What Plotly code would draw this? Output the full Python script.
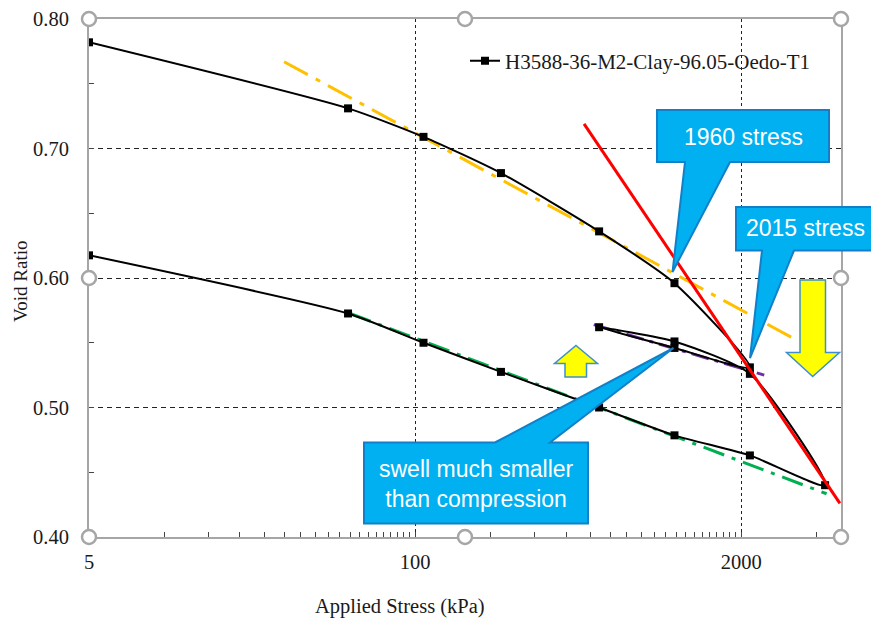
import math
import plotly.graph_objects as go

# ---------------- data ----------------
stress = [5, 54, 108, 220, 542, 1083, 2165, 1083, 542, 1083, 2165, 4320,
          2165, 1083, 542, 220, 108, 54, 5]
void_ratio = [0.782, 0.731, 0.709, 0.681, 0.636, 0.596, 0.531, 0.546, 0.562,
              0.551, 0.526, 0.440, 0.463, 0.4785, 0.500, 0.5275, 0.550,
              0.5726, 0.6175]
series_name = "H3588-36-M2-Clay-96.05-Oedo-T1"

orange_x = [30, 3330]
orange_y = [0.767, 0.552]
red_x = [472, 4950]
red_y = [0.719, 0.426]
purple_x = [516, 2470]
purple_y = [0.564, 0.525]
green_x = [55, 4380]
green_y = [0.5726, 0.4334]

x_tickvals = [5, 100, 2000]
x_ticktext = ["5", "100", "2000"]
x_minor = [5 * k for k in range(2, 20)] + [100 * k for k in range(2, 20)] + [4000]
y_tickvals = [0.40, 0.50, 0.60, 0.70, 0.80]
y_minor = [0.45, 0.55, 0.65, 0.75]

# ---------------- layout helpers (pixel -> paper) ----------------
L, T, W, H = 89, 19, 752, 518
FW, FH = 871, 619


def px(x):
    return (x - L) / W


def py(y):
    return (T + H - y) / H


def path(points):
    s = "M " + " L ".join(f"{px(x):.5f},{py(y):.5f}" for x, y in points) + " Z"
    return s


SERIF = "Liberation Serif, Times New Roman, serif"
SANS = "Liberation Sans, Arial, sans-serif"

fig = go.Figure()

fig.add_trace(go.Scatter(x=orange_x, y=orange_y, mode="lines", showlegend=False,
                         line=dict(color="#FFC000", width=3, dash="27px,9px,5px,9px")))
fig.add_trace(go.Scatter(x=green_x, y=green_y, mode="lines", showlegend=False,
                         line=dict(color="#00B050", width=3, dash="22px,8px,4px,8px")))
fig.add_trace(go.Scatter(x=purple_x, y=purple_y, mode="lines", showlegend=False,
                         line=dict(color="#7030A0", width=3, dash="18px,6px,4px,6px")))
fig.add_trace(go.Scatter(x=stress, y=void_ratio, mode="lines+markers", name=series_name,
                         line=dict(color="black", width=2, shape="spline", smoothing=0.6),
                         marker=dict(symbol="square", size=8, color="black")))
fig.add_trace(go.Scatter(x=red_x, y=red_y, mode="lines", showlegend=False,
                         line=dict(color="#FF0000", width=3)))

shapes = []
CALL_FILL = "#00B0F0"
CALL_LINE = "#1180C8"
# callouts
shapes.append(dict(type="path", xref="paper", yref="paper",
                   path=path([(657, 110), (829, 110), (829, 162), (730, 162),
                              (672.5, 272), (685, 162), (657, 162)]),
                   fillcolor=CALL_FILL, line=dict(color=CALL_LINE, width=2)))
shapes.append(dict(type="path", xref="paper", yref="paper",
                   path=path([(736, 207), (885, 207), (885, 250.5), (794, 250.5),
                              (750, 358), (762, 250.5), (736, 250.5)]),
                   fillcolor=CALL_FILL, line=dict(color=CALL_LINE, width=2)))
shapes.append(dict(type="path", xref="paper", yref="paper",
                   path=path([(364, 442.5), (495, 442.5), (673.5, 348), (550, 442.5),
                              (588, 442.5), (588, 523.5), (364, 523.5)]),
                   fillcolor=CALL_FILL, line=dict(color=CALL_LINE, width=2)))
# yellow arrows
ARROW_LINE = "#3C8FD0"
shapes.append(dict(type="path", xref="paper", yref="paper",
                   path=path([(576, 345.5), (597.5, 363.5), (586.5, 363.5), (586.5, 377),
                              (565, 377), (565, 363.5), (554.5, 363.5)]),
                   fillcolor="#FFFF00", line=dict(color=ARROW_LINE, width=1.5)))
shapes.append(dict(type="path", xref="paper", yref="paper",
                   path=path([(800, 280), (825.5, 280), (825.5, 352.5), (839.5, 352.5),
                              (812.7, 376.5), (786.5, 352.5), (800, 352.5)]),
                   fillcolor="#FFFF00", line=dict(color=ARROW_LINE, width=1.5)))
# selection handles
for hx in (L, L + W / 2, L + W):
    for hy in (T, T + H / 2, T + H):
        if hx == L + W / 2 and hy == T + H / 2:
            continue
        shapes.append(dict(type="circle", xref="paper", yref="paper",
                           xsizemode="pixel", ysizemode="pixel",
                           xanchor=px(hx), yanchor=py(hy),
                           x0=-7, x1=7, y0=-7, y1=7,
                           fillcolor="white", line=dict(color="#A6A6A6", width=2.5)))


def note(text, x, y, font, angle=0):
    return dict(text=text, x=px(x), y=py(y), xref="paper", yref="paper",
                xanchor="center", yanchor="middle", showarrow=False,
                textangle=angle, font=font)


annotations = [
    note("1960 stress", 743, 136.5, dict(family=SANS, size=23, color="white")),
    note("2015 stress", 805, 228, dict(family=SANS, size=23, color="white")),
    note("swell much smaller<br>than compression", 476, 484,
         dict(family=SANS, size=23, color="white")),
    note("Applied Stress (kPa)", 400, 606, dict(family=SERIF, size=20.5, color="#1a1a1a")),
    note("Void Ratio", 20, 282, dict(family=SERIF, size=19, color="#1a1a1a"), -90),
]

fig.update_layout(
    width=FW, height=FH,
    margin=dict(l=L, r=FW - L - W, t=T, b=FH - T - H, autoexpand=False),
    paper_bgcolor="white", plot_bgcolor="white",
    shapes=shapes, annotations=annotations,
    legend=dict(x=px(465), y=py(61), xanchor="left", yanchor="middle",
                bgcolor="rgba(0,0,0,0)", font=dict(family=SERIF, size=21, color="#1a1a1a")),
    xaxis=dict(type="log", range=[math.log10(5), math.log10(5000)], automargin=False,
               tickmode="array", tickvals=x_tickvals, ticktext=x_ticktext,
               showline=True, linecolor="#A6A6A6", linewidth=2, mirror=True,
               ticks="inside", ticklen=5, tickcolor="#444",
               showgrid=True, gridcolor="#222", gridwidth=1, griddash="3px,3px",
               zeroline=False, ticklabelstandoff=5,
               tickfont=dict(family=SERIF, size=20.5, color="#1a1a1a"),
               minor=dict(tickmode="array", tickvals=x_minor, ticks="inside",
                          ticklen=5, tickcolor="#444", showgrid=False)),
    yaxis=dict(range=[0.40, 0.80], automargin=False, tickmode="array", tickvals=y_tickvals,
               tickformat=".2f",
               showline=True, linecolor="#A6A6A6", linewidth=2, mirror=True,
               ticks="inside", ticklen=5, tickcolor="#444",
               showgrid=True, gridcolor="#222", gridwidth=1, griddash="5px,4px",
               zeroline=False, ticklabelstandoff=14,
               tickfont=dict(family=SERIF, size=20.5, color="#1a1a1a"),
               minor=dict(tickmode="array", tickvals=y_minor, ticks="inside",
                          ticklen=5, tickcolor="#444", showgrid=False)),
)

fig.write_html("out.html", config={"displayModeBar": False},
               post_script="document.body.style.margin='0';document.body.style.padding='0';")
